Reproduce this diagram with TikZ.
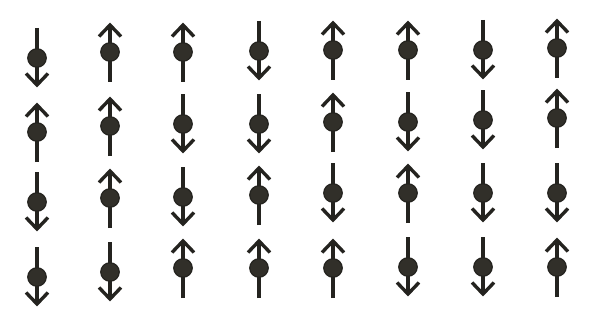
\documentclass[tikz,border=0pt]{standalone}
\definecolor{ink}{HTML}{24231F}
\definecolor{dotfill}{HTML}{312F29}
\tikzset{
  spinline/.style={draw=ink,line width=3.4pt},
  spinhead/.style={draw=ink,line width=3.4pt,line join=miter,line cap=butt},
  spindot/.style={circle,fill=dotfill,draw=ink,line width=1.2pt,inner sep=0pt,minimum size=18.5pt}
}
\begin{document}
\begin{tikzpicture}[x=1pt,y=-1pt]
\useasboundingbox (0,0) rectangle (589,321);
\foreach \x/\y/\d [count=\i] in {
  37/58/1, 110/52/-1, 183/52/-1, 259/51/1, 333/50/-1, 408/50/-1, 483/50/1, 557/48/-1,
  37/132/-1, 110/126/-1, 183/124/1, 259/124/1, 333/122/-1, 408/122/1, 483/120/1, 557/118/-1,
  37/202/1, 110/198/-1, 183/197/1, 259/195/-1, 333/193/1, 408/193/-1, 483/193/1, 557/193/1,
  37/277/1, 110/272/1, 183/268/-1, 259/268/-1, 333/268/-1, 408/267/1, 483/267/1, 557/267/-1} {
  \draw[spinline] (\x,\y-30*\d) -- (\x,\y+27*\d);
  \draw[spinhead] (\x-11,\y+15.5*\d) -- (\x,\y+27*\d) -- (\x+11,\y+15.5*\d);
  \node[spindot] (s\i) at (\x,\y) {};
}
\end{tikzpicture}
\end{document}
